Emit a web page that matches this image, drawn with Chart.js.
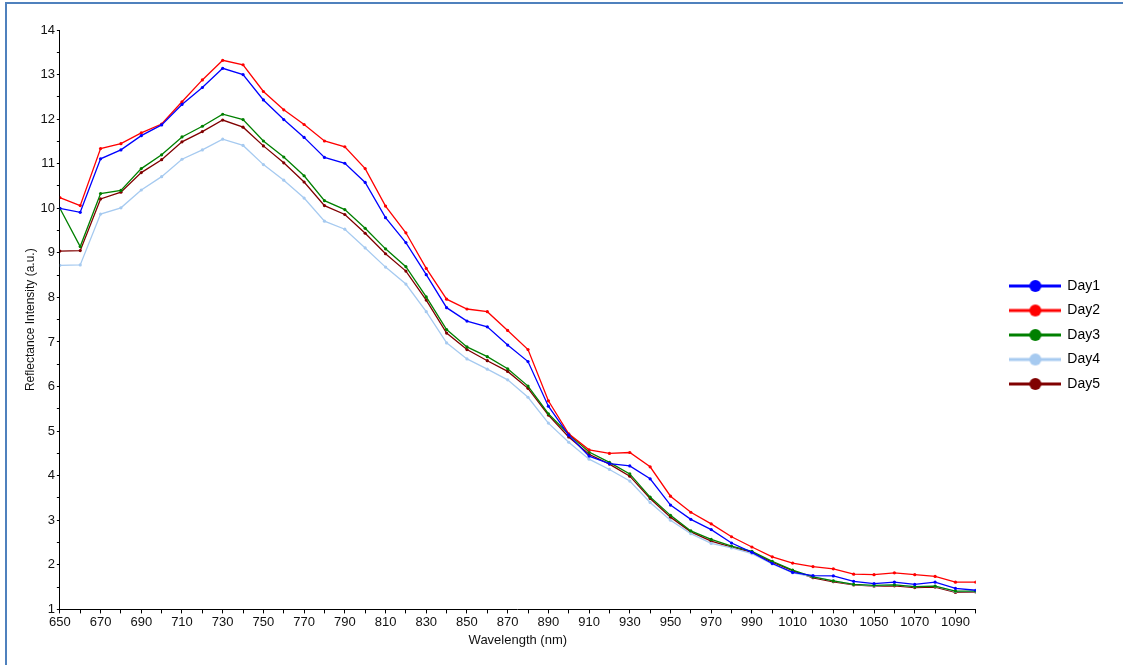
<!DOCTYPE html>
<html>
<head>
<meta charset="utf-8">
<title>Reflectance Intensity</title>
<script src="https://cdn.jsdelivr.net/npm/chart.js@4/dist/chart.umd.min.js"></script>
<style>
    html, body { margin: 0; padding: 0; background: #fff; }
    #frame {
        position: absolute; left: 5px; top: 2px; right: 0; bottom: 0;
        border-top: 2px solid #4f81bd; border-left: 2px solid #4f81bd;
    }
    #wrap { position: absolute; left: 0; top: 0; width: 1123px; height: 665px; }
</style>
</head>
<body>
<div id="frame"></div>
<div id="wrap"><canvas id="chart"></canvas></div>
<script>
// longueurs d'onde (nm), un point tous les 10 nm
const wavelengths = [
    650, 660, 670, 680, 690, 700, 710, 720, 730, 740, 750, 760, 770, 780, 790,
    800, 810, 820, 830, 840, 850, 860, 870, 880, 890, 900, 910, 920, 930, 940,
    950, 960, 970, 980, 990, 1000, 1010, 1020, 1030, 1040, 1050, 1060, 1070, 1080, 1090, 1100
];

const day1 = [
    10.00, 9.91, 11.11, 11.31, 11.63, 11.87, 12.33, 12.71, 13.14, 13.00, 12.43, 11.99, 11.59, 11.14, 11.01,
    10.58, 9.79, 9.23, 8.51, 7.77, 7.47, 7.34, 6.93, 6.56, 5.56, 4.91, 4.44, 4.27, 4.22, 3.93,
    3.34, 3.02, 2.79, 2.49, 2.28, 2.03, 1.83, 1.76, 1.75, 1.63, 1.58, 1.61, 1.56, 1.61, 1.47, 1.43
];
const day2 = [
    10.24, 10.06, 11.34, 11.45, 11.69, 11.89, 12.39, 12.88, 13.32, 13.22, 12.62, 12.21, 11.88, 11.51, 11.38,
    10.89, 10.05, 9.45, 8.65, 7.96, 7.74, 7.68, 7.26, 6.83, 5.68, 4.94, 4.58, 4.50, 4.52, 4.20,
    3.54, 3.18, 2.92, 2.63, 2.40, 2.18, 2.04, 1.96, 1.91, 1.79, 1.78, 1.82, 1.78, 1.74, 1.61, 1.61
];
const day3 = [
    10.00, 9.14, 10.33, 10.40, 10.89, 11.20, 11.60, 11.84, 12.11, 11.99, 11.51, 11.15, 10.73, 10.17, 9.97,
    9.55, 9.09, 8.69, 8.01, 7.28, 6.89, 6.67, 6.40, 6.01, 5.39, 4.93, 4.53, 4.30, 4.04, 3.52,
    3.11, 2.76, 2.57, 2.42, 2.30, 2.08, 1.88, 1.73, 1.64, 1.56, 1.54, 1.55, 1.51, 1.52, 1.41, 1.41
];
const day4 = [
    8.72, 8.73, 9.87, 10.01, 10.41, 10.71, 11.10, 11.31, 11.55, 11.41, 10.98, 10.63, 10.23, 9.71, 9.53,
    9.11, 8.68, 8.30, 7.68, 6.98, 6.62, 6.39, 6.15, 5.76, 5.18, 4.75, 4.37, 4.14, 3.88, 3.40,
    3.00, 2.70, 2.48, 2.38, 2.25, 2.02, 1.82, 1.73, 1.64, 1.56, 1.53, 1.55, 1.51, 1.52, 1.40, 1.40
];
const day5 = [
    9.04, 9.05, 10.21, 10.36, 10.80, 11.09, 11.49, 11.72, 11.98, 11.82, 11.40, 11.02, 10.59, 10.06, 9.86,
    9.44, 8.98, 8.59, 7.94, 7.20, 6.83, 6.58, 6.34, 5.96, 5.36, 4.87, 4.48, 4.26, 3.99, 3.49,
    3.07, 2.74, 2.53, 2.40, 2.28, 2.06, 1.87, 1.71, 1.62, 1.55, 1.52, 1.53, 1.49, 1.50, 1.38, 1.39
];

const seriesNames = ['Day1', 'Day2', 'Day3', 'Day4', 'Day5'];
const seriesColors = ['#0000ff', '#ff0000', '#008000', '#a6caf0', '#800000'];

(function () {
    'use strict';

    Chart.defaults.font.family = '"Liberation Sans", Arial, sans-serif';
    Chart.defaults.color = '#111';

    // pictogramme de légende : trait + gros point
    function legendIcon(color) {
        const c = document.createElement('canvas');
        c.width = 52;
        c.height = 14;
        const g = c.getContext('2d');
        g.strokeStyle = color;
        g.lineWidth = 3;
        g.beginPath();
        g.moveTo(0, 7);
        g.lineTo(52, 7);
        g.stroke();
        g.fillStyle = color;
        g.beginPath();
        g.arc(26, 7, 6, 0, Math.PI * 2);
        g.fill();
        return c;
    }
    const icons = seriesColors.map(legendIcon);

    const values = [day1, day2, day3, day4, day5];
    const datasets = values.map(function (v, i) {
        return {
            label: seriesNames[i],
            data: v,
            borderColor: seriesColors[i],
            backgroundColor: seriesColors[i],
            borderWidth: 1.3,
            pointRadius: 1.6,
            pointBorderWidth: 0,
            pointBackgroundColor: seriesColors[i],
            tension: 0
        };
    });

    // recale la légende pour coller à l'original
    const legendShift = {
        id: 'legendShift',
        afterLayout(chart) {
            const lg = chart.legend;
            lg.top -= 4;
            lg.bottom -= 4;
            lg.left += 24;
            lg.right += 24;
        }
    };

    const axisColor = '#000';

    new Chart(document.getElementById('chart'), {
        type: 'line',
        data: { labels: wavelengths, datasets: datasets },
        plugins: [legendShift],
        options: {
            responsive: true,
            maintainAspectRatio: false,
            animation: false,
            layout: { padding: { left: 19, right: 37, top: 30, bottom: 17 } },
            plugins: {
                tooltip: { enabled: false },
                legend: {
                    position: 'right',
                    labels: {
                        usePointStyle: true,
                        pointStyleWidth: 50,
                        boxHeight: 14,
                        padding: 10.5,
                        color: '#000',
                        font: { size: 14 },
                        generateLabels(chart) {
                            const items = Chart.defaults.plugins.legend.labels.generateLabels(chart);
                            items.forEach(function (it, i) { it.pointStyle = icons[i]; });
                            return items;
                        }
                    }
                }
            },
            scales: {
                x: {
                    type: 'linear',
                    min: 650,
                    max: 1100,
                    border: { color: axisColor, width: 1 },
                    grid: { drawOnChartArea: false, drawTicks: true, tickLength: 4, color: axisColor },
                    ticks: {
                        stepSize: 10,
                        autoSkip: false,
                        maxRotation: 0,
                        padding: 3,
                        color: '#111',
                        font: { size: 13, lineHeight: 1 },
                        callback: function (v) { return (v - 650) % 20 === 0 ? v : ''; }
                    },
                    title: { display: true, text: 'Wavelength (nm)', color: '#111', font: { size: 13 }, padding: 0 }
                },
                y: {
                    min: 1,
                    max: 14,
                    border: { color: axisColor, width: 1 },
                    grid: { drawOnChartArea: false, drawTicks: true, tickLength: 3, color: axisColor },
                    ticks: {
                        stepSize: 0.5,
                        autoSkip: false,
                        padding: 2,
                        color: '#111',
                        font: { size: 13 },
                        callback: function (v) { return Number.isInteger(v) ? v : ''; }
                    },
                    title: {
                        display: true,
                        text: 'Reflectance Intensity (a.u.)',
                        color: '#111',
                        font: { size: 12 },
                        padding: { top: 4, bottom: 1 }
                    }
                }
            }
        }
    });
})();
</script>
</body>
</html>
